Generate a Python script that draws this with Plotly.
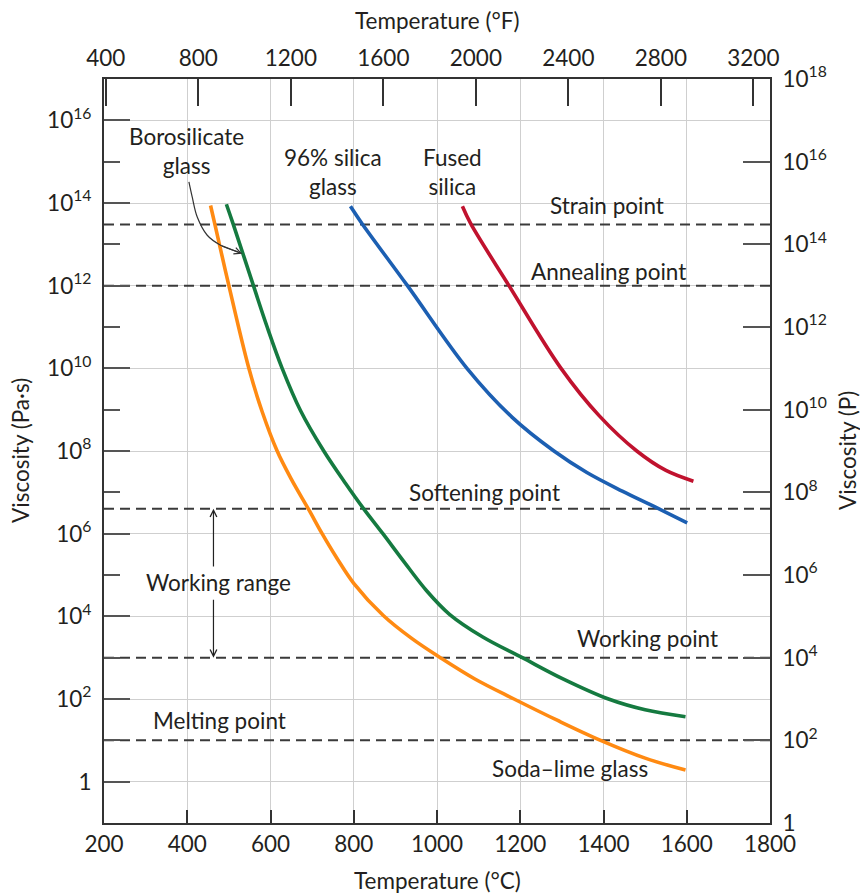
import plotly.graph_objects as go

# ---------------- data (temperature in °C, log10 viscosity in Pa·s) ----------------
soda_T = [456, 466, 500, 548, 580, 616, 650, 692, 724, 760, 800, 871, 940, 1008, 1090, 1185, 1290, 1393, 1500, 1597]
soda_log = [13.94, 13.5, 12.0, 10.0, 8.95, 8.0, 7.32, 6.58, 6.0, 5.4, 4.8, 4.02, 3.46, 3.0, 2.49, 2.0, 1.48, 1.0, 0.57, 0.28]

boro_T = [494, 510, 559, 592, 628, 672, 728, 780, 824, 870, 920, 975, 1030, 1110, 1205, 1300, 1412, 1500, 1597]
boro_log = [13.97, 13.5, 12.0, 11.0, 10.0, 8.98, 8.0, 7.22, 6.6, 6.0, 5.33, 4.62, 4.05, 3.5, 3.0, 2.5, 2.0, 1.74, 1.57]

silica96_T = [792, 820, 929, 1072, 1180, 1281, 1360, 1445, 1525, 1601]
silica96_log = [13.92, 13.5, 12.0, 10.0, 8.82, 8.0, 7.48, 7.03, 6.64, 6.26]

fused_T = [1061, 1081, 1173, 1298, 1390, 1480, 1550, 1616]
fused_log = [13.92, 13.5, 12.0, 10.0, 8.85, 8.0, 7.53, 7.27]

ref_names = ["Strain point", "Annealing point", "Softening point", "Working point", "Melting point"]
ref_values = [3e13, 1e12, 4e6, 1e3, 1e1]

x_ticks_C = [200, 400, 600, 800, 1000, 1200, 1400, 1600, 1800]
x_ticks_F = [400, 800, 1200, 1600, 2000, 2400, 2800, 3200]
left_exp = [0, 2, 4, 6, 8, 10, 12, 14, 16]
left_minor_exp = [1, 3, 5, 7, 9, 11, 13, 15]
right_exp = [0, 2, 4, 6, 8, 10, 12, 14, 16, 18]

# borosilicate label arrow path (°C, log10 Pa·s)
arrow_T = [404, 412, 424, 448, 480, 522]
arrow_log = [14.51, 14.14, 13.66, 13.22, 12.98, 12.82]

# ---------------- styling ----------------
FONT = "Lato"
FS = 22.5
TXT = "#231f20"
GRID = "#cfcfcf"
AX = "#333333"
colors = {"soda": "#ff8a12", "boro": "#157a40", "s96": "#1c5fb2", "fused": "#c0122e"}


def pw(logs):
    return [10 ** v for v in logs]


def exp_label(e):
    return "1" if e == 0 else f"10<sup>{e}</sup>"


fig = go.Figure()

# reference dashed lines
for name, v in zip(ref_names, ref_values):
    fig.add_trace(go.Scatter(x=[x_ticks_C[0], x_ticks_C[-1]], y=[v, v], mode="lines",
                             line=dict(color="#3a3a3a", width=2, dash="10px,6px"),
                             hoverinfo="skip", showlegend=False))

curves = [
    ("Soda–lime glass", soda_T, soda_log, colors["soda"]),
    ("Borosilicate glass", boro_T, boro_log, colors["boro"]),
    ("96% silica glass", silica96_T, silica96_log, colors["s96"]),
    ("Fused silica", fused_T, fused_log, colors["fused"]),
]
for name, T, lg, c in curves:
    fig.add_trace(go.Scatter(x=T, y=pw(lg), mode="lines", name=name,
                             line=dict(color=c, width=3.6, shape="spline", smoothing=1.0),
                             showlegend=False))

# invisible traces to bind the secondary axes (°F on top, Poise on right)
fig.add_trace(go.Scatter(x=[t * 9 / 5 + 32 for t in fused_T], y=pw(fused_log), xaxis="x2", yaxis="y",
                         mode="markers", marker=dict(opacity=0), hoverinfo="skip", showlegend=False))
fig.add_trace(go.Scatter(x=fused_T, y=[10 * v for v in pw(fused_log)], xaxis="x", yaxis="y2",
                         mode="markers", marker=dict(opacity=0), hoverinfo="skip", showlegend=False))

# borosilicate label arrow (curved line)
fig.add_trace(go.Scatter(x=arrow_T, y=pw(arrow_log), mode="lines",
                         line=dict(color="#333", width=1.2, shape="spline"),
                         hoverinfo="skip", showlegend=False))

annotations = []
annotations.append(dict(x=arrow_T[-1] + 10, y=arrow_log[-1] - 0.05, ax=arrow_T[-2], ay=arrow_log[-2],
                        xref="x", yref="y", axref="x", ayref="y", text="", showarrow=True,
                        arrowhead=5, arrowsize=1.1, arrowwidth=1.2, arrowcolor="#333"))

# working range arrows
wr_T = 463
annotations.append(dict(x=wr_T, y=6.6, ax=wr_T, ay=5.17, xref="x", yref="y", axref="x", ayref="y",
                        text="", showarrow=True, arrowhead=5, arrowsize=1.1, arrowwidth=1.2, arrowcolor="#222"))
annotations.append(dict(x=wr_T, y=3.0, ax=wr_T, ay=4.44, xref="x", yref="y", axref="x", ayref="y",
                        text="", showarrow=True, arrowhead=5, arrowsize=1.1, arrowwidth=1.2, arrowcolor="#222"))

labels = [
    ("Borosilicate<br>glass", 397, 15.27),
    ("96% silica<br>glass", 751, 14.74),
    ("Fused<br>silica", 1037, 14.74),
    ("Strain point", 1409, 13.94),
    ("Annealing point", 1411, 12.35),
    ("Softening point", 1114, 7.0),
    ("Working point", 1506, 3.47),
    ("Working range", 475, 4.83),
    ("Melting point", 477, 1.49),
    ("Soda–lime glass", 1320, 0.31),
]
for t, x, y in labels:
    annotations.append(dict(x=x, y=y, xref="x", yref="y", text=t, showarrow=False,
                            font=dict(family=FONT, size=FS, color=TXT), xanchor="center", yanchor="middle"))

# axis titles
annotations.append(dict(x=0.5, y=0, xref="paper", yref="paper", yshift=-57, text="Temperature (°C)",
                        showarrow=False, font=dict(family=FONT, size=FS, color=TXT), yanchor="middle"))
annotations.append(dict(x=0.5, y=1, xref="paper", yref="paper", yshift=59, text="Temperature (°F)",
                        showarrow=False, font=dict(family=FONT, size=FS, color=TXT), yanchor="middle"))
annotations.append(dict(x=0, y=0.5, xref="paper", yref="paper", xshift=-84, text="Viscosity (Pa·s)",
                        textangle=-90, showarrow=False, font=dict(family=FONT, size=FS, color=TXT),
                        xanchor="center"))
annotations.append(dict(x=1, y=0.5, xref="paper", yref="paper", xshift=77, text="Viscosity (P)",
                        textangle=-90, showarrow=False, font=dict(family=FONT, size=FS, color=TXT),
                        xanchor="center"))

tickfont = dict(family=FONT, size=FS, color=TXT)

fig.update_layout(
    width=852, height=888,
    margin=dict(l=96, r=90, t=71, b=73),
    paper_bgcolor="white", plot_bgcolor="white",
    showlegend=False,
    annotations=annotations,
    xaxis=dict(range=[x_ticks_C[0], x_ticks_C[-1]], tickvals=x_ticks_C, ticks="inside", ticklen=13,
               tickwidth=1.5, tickcolor=AX, showgrid=True, gridcolor=GRID, gridwidth=1.3,
               showline=True, linecolor=AX, linewidth=2, zeroline=False, tickfont=tickfont,
               ticklabelstandoff=0),
    xaxis2=dict(overlaying="x", side="top", anchor="y",
                range=[x_ticks_C[0] * 9 / 5 + 32, x_ticks_C[-1] * 9 / 5 + 32], tickvals=x_ticks_F,
                ticks="inside", ticklen=27, tickwidth=1.5, tickcolor=AX, showgrid=False,
                showline=True, linecolor=AX, linewidth=2, zeroline=False, tickfont=tickfont,
                ticklabelstandoff=2),
    yaxis=dict(type="log", range=[-1, 17], tickvals=[10 ** e for e in left_exp],
               ticktext=[exp_label(e) for e in left_exp], ticks="inside", ticklen=26, tickwidth=1.5,
               tickcolor="#555", showgrid=True, gridcolor=GRID, gridwidth=1.3,
               showline=True, linecolor=AX, linewidth=2, zeroline=False, tickfont=tickfont,
               ticklabelstandoff=6,
               minor=dict(tickvals=[10 ** e for e in left_minor_exp], ticks="inside", ticklen=16,
                          tickwidth=1.5, tickcolor="#555", showgrid=False)),
    yaxis2=dict(type="log", overlaying="y", side="right", anchor="x", range=[0, 18],
                tickvals=[10 ** e for e in right_exp], ticktext=[exp_label(e) for e in right_exp],
                ticks="inside", ticklen=27, tickwidth=1.5, tickcolor="#555", showgrid=False,
                showline=True, linecolor=AX, linewidth=2, zeroline=False, tickfont=tickfont,
                ticklabelstandoff=6),
)

fig.write_html("out.html")
